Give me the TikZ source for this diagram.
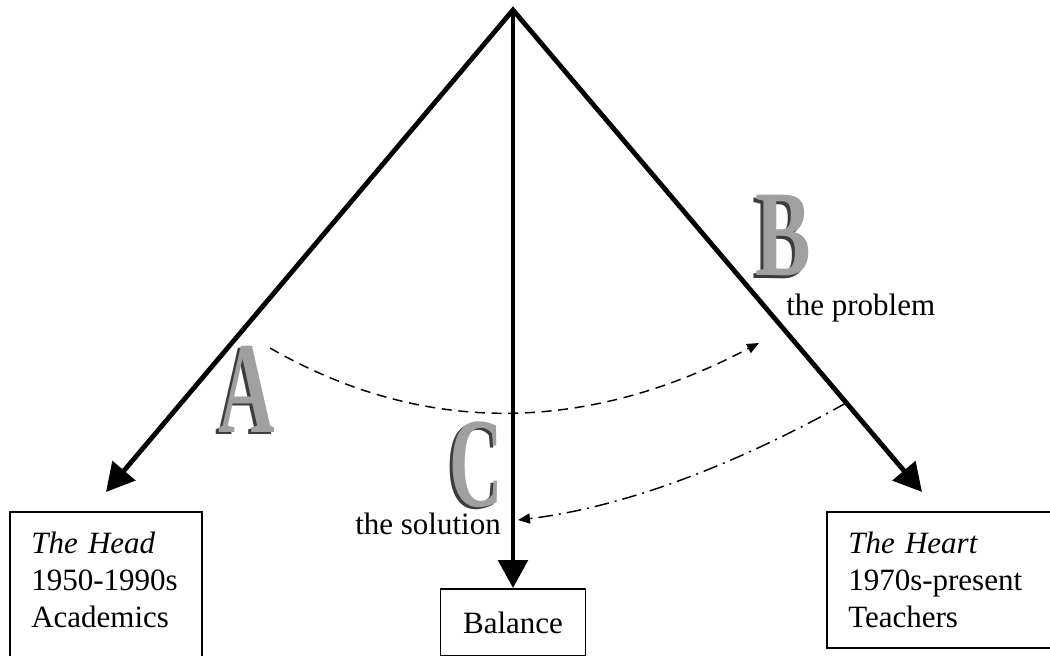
\documentclass[tikz,border=0pt]{standalone}
\usepackage{fontspec}
\setmainfont{Liberation Serif}
\usetikzlibrary{arrows.meta}
\definecolor{metaldark}{RGB}{60, 60, 60}
\definecolor{metallight}{RGB}{160, 160, 160}

\begin{document}
\begin{tikzpicture}[x=0.75pt, y=-0.75pt,
        % Set global font size for consistency
        font=\fontsize{23.25}{27.75}\selectfont,
        % Define reusable styles for different elements of the diagram
        swing/.style={line width=3.6pt, line join=miter},
        box/.style={draw, line width=1.4pt, align=left, anchor=north west, inner xsep=16pt, inner ysep=15pt},
        label/.style={anchor=base west, inner sep=0pt},
        problemarc/.style={line width=1.1pt, dash pattern=on 7.5pt off 5pt, -{Triangle[width=7.5pt, length=9pt]}},
        solutionarc/.style={line width=1.1pt, dash pattern=on 11pt off 4.5pt on 1.5pt off 4.5pt, -{Triangle[width=7.5pt, length=9pt]}},
        letterback/.style={inner sep=0pt, anchor=base, text=metaldark},
        letterface/.style={inner sep=0pt, anchor=base, text=metallight}
    ]

    \path[use as bounding box, clip] (0, 0) rectangle (1050, 656);

    \coordinate (top) at (513, 10);
    \coordinate (headtip) at (106, 492);
    \coordinate (hearttip) at (922, 492);

    \node[box, text width=112pt, text depth=80pt] (head) at (9, 511) {\textit{The Head}\\1950-1990s\\Academics};
    \node[box, text width=150pt] (heart) at (826, 511) {\textit{The Heart}\\1970s-present\\Teachers};
    \node[draw, line width=1.4pt, anchor=north, minimum width=108.75pt, minimum height=50.25pt, inner sep=0pt] (balance) at (513, 588) {Balance};

    \draw[swing, {Triangle[width=22pt, length=21pt]}-{Triangle[width=22pt, length=21pt]}] (headtip) -- (top) -- (hearttip);
    \draw[swing, -{Triangle[width=22pt, length=21pt]}] (top) -- (balance.north);

    % Shaded capitals
    \node[letterback, font=\fontsize{98}{98}\selectfont\bfseries] (Aback) at (244, 434) {\scalebox{0.6}[1]{A}};
    \node[letterface, font=\fontsize{98}{98}\selectfont\bfseries] (A) at (247, 432) {\scalebox{0.6}[1]{A}};
    \node[letterback, font=\fontsize{92}{92}\selectfont\bfseries] (Bback) at (780, 278) {\scalebox{0.68}[1]{B}};
    \node[letterface, font=\fontsize{92}{92}\selectfont\bfseries] (B) at (783, 276) {\scalebox{0.68}[1]{B}};
    \node[letterback, font=\fontsize{96}{96}\selectfont\bfseries] (Cback) at (473, 508) {\scalebox{0.58}[1]{C}};
    \node[letterface, font=\fontsize{96}{96}\selectfont\bfseries] (C) at (476, 506) {\scalebox{0.58}[1]{C}};

    \node[label] (problem) at (786, 315) {the problem};
    \node[label] (solution) at (355, 534) {the solution};

    \coordinate (probstart) at (270, 348);
    \coordinate (probend) at (759, 343);
    \coordinate (solstart) at (846, 403);
    \coordinate (solend) at (518, 520);

    \draw[problemarc] (probstart) .. controls (423, 436) and (586, 434) .. (probend);
    \draw[solutionarc] (solstart) .. controls (728, 469) and (618, 508) .. (solend);

\end{tikzpicture}
\end{document}
